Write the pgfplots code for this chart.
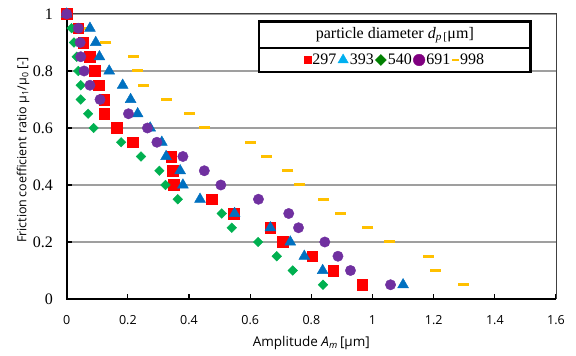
\documentclass[border=0pt]{standalone}
\usepackage{fontspec}
\setmainfont{Liberation Serif}
\setsansfont{Open Sans}
\usepackage{pgfplots}
\pgfplotsset{compat=1.18}
\definecolor{cRed}{HTML}{FF0000}
\definecolor{cBlue}{HTML}{0070C0}
\definecolor{cCyan}{HTML}{00B0F0}
\definecolor{cGreen}{HTML}{00B050}
\definecolor{cDGreen}{HTML}{008000}
\definecolor{cPurple}{HTML}{7030A0}
\definecolor{cLPurple}{HTML}{800080}
\definecolor{cGold}{HTML}{FFC000}
\begin{document}
\begin{tikzpicture}
\begin{axis}[
  at={(0pt,0pt)}, anchor=south west,
  scale only axis, width=489.3pt, height=285pt,
  xmin=0, xmax=1.6, ymin=0, ymax=1,
  xtick={0,0.2,...,1.6}, ytick={0,0.2,...,1},
  /pgf/number format/assume math mode=true,
  xticklabels={0,0.2,0.4,0.6,0.8,1,1.2,1.4,1.6},
  yticklabels={0,0.2,0.4,0.6,0.8,1},
  xticklabel style={font=\sffamily\fontsize{12.5}{12.5}\selectfont, anchor=center, inner sep=0pt, yshift=-21pt},
  yticklabel style={font=\fontsize{16}{16}\selectfont, anchor=east, inner sep=0pt, xshift=-13.5pt},
  tick align=inside, tick pos=left,
  major tick length=5pt,
  tick style={black, line width=1.2pt},
  axis line style={draw=none},
  ymajorgrids, grid style={gray!75, line width=1.1pt},
  xlabel={\sffamily\fontsize{13.5}{13.5}\selectfont Amplitude \textit{A}\textsubscript{\textit{m}}\,[μm]},
  ylabel={\sffamily\fontsize{12.5}{12.5}\selectfont Friction\,coefficient ratio μ\textsubscript{1}/μ\textsubscript{0} [-]},
  xlabel style={at={(axis description cs:0.5,-0.154)}, anchor=center},
  ylabel style={at={(axis description cs:-0.0893,0.523)}, anchor=center},
  clip=false,
  legend columns=5,
  legend style={at={(axis cs:1.073,0.8386)}, anchor=center, draw=none, fill=none,
    font=\fontsize{16}{16}\selectfont, inner sep=0pt,
    nodes={inner sep=1.5pt},
    /tikz/every even column/.append style={column sep=0pt},
    /tikz/every odd column/.append style={column sep=0pt}},
  legend cell align=left,
  legend image code/.code={\draw[#1] (0cm,0cm) -- plot coordinates {(0cm,0cm)};},
]
\draw[black!75, line width=1pt] (rel axis cs:0,1) -- (rel axis cs:1,1) -- (rel axis cs:1,0);
\draw[black, line width=1.8pt] (rel axis cs:0,1) -- (rel axis cs:0,0) -- (rel axis cs:1,0);
% 998
\addplot[only marks, mark=-, mark size=5.5pt, color=cGold, mark options={line width=3pt}, forget plot] coordinates {
(0,1) (0.058,0.95) (0.128,0.9) (0.218,0.85) (0.231,0.8) (0.251,0.75) (0.326,0.7) (0.402,0.65)
(0.451,0.6) (0.601,0.55) (0.654,0.5) (0.723,0.45) (0.762,0.4) (0.841,0.35) (0.894,0.3)
(0.985,0.25) (1.055,0.2) (1.183,0.15) (1.205,0.1) (1.297,0.05)};
% 297
\addplot[only marks, mark=square*, mark size=5.3pt, color=cRed, forget plot] coordinates {
(0,1) (0.038,0.95) (0.054,0.9) (0.076,0.85) (0.091,0.8) (0.104,0.75) (0.123,0.7) (0.123,0.65)
(0.163,0.6) (0.215,0.55) (0.342,0.5) (0.347,0.45) (0.349,0.4) (0.475,0.35) (0.546,0.3)
(0.666,0.25) (0.706,0.2) (0.803,0.15) (0.871,0.1) (0.966,0.05)};
% 393
\addplot[only marks, mark=triangle*, mark size=6.3pt, color=cBlue, forget plot] coordinates {
(0,1) (0.076,0.95) (0.095,0.9) (0.107,0.85) (0.139,0.8) (0.183,0.75) (0.209,0.7) (0.232,0.65)
(0.273,0.6) (0.311,0.55) (0.325,0.5) (0.371,0.45) (0.38,0.4) (0.436,0.35) (0.549,0.3)
(0.666,0.25) (0.731,0.2) (0.777,0.15) (0.837,0.1) (1.1,0.05)};
% 540
\addplot[only marks, mark=square*, mark options={rotate=45}, mark size=3.4pt, color=cGreen, forget plot] coordinates {
(0,1) (0.016,0.95) (0.024,0.9) (0.033,0.85) (0.038,0.8) (0.046,0.75) (0.046,0.7) (0.07,0.65)
(0.088,0.6) (0.178,0.55) (0.243,0.5) (0.303,0.45) (0.323,0.4) (0.363,0.35) (0.507,0.3)
(0.54,0.25) (0.626,0.2) (0.687,0.15) (0.739,0.1) (0.838,0.05)};
% 691
\addplot[only marks, mark=*, mark size=5.2pt, color=cPurple, forget plot] coordinates {
(0,1) (0.038,0.95) (0.044,0.9) (0.046,0.85) (0.057,0.8) (0.076,0.75) (0.109,0.7) (0.202,0.65)
(0.264,0.6) (0.295,0.55) (0.38,0.5) (0.45,0.45) (0.504,0.4) (0.627,0.35) (0.726,0.3)
(0.758,0.25) (0.844,0.2) (0.887,0.15) (0.928,0.1) (1.059,0.05)};
% legend frame and title
\draw[black, line width=2.6pt, fill=white] (axis cs:0.629,0.797) rectangle (axis cs:1.516,0.88);
\draw[black, line width=2.6pt, fill=white] (axis cs:0.629,0.88) rectangle (axis cs:1.516,0.973);
\node[font=\fontsize{16}{16}\selectfont] at (axis cs:1.073,0.926) {particle diameter \textit{d}\textsubscript{\textit{p}\,[}μm]};
\addlegendimage{only marks, mark=square*, mark size=3.4pt, color=cRed}
\addlegendentry{297}
\addlegendimage{only marks, mark=triangle*, mark size=6pt, color=cCyan}
\addlegendentry{393}
\addlegendimage{only marks, mark=square*, mark options={rotate=45}, mark size=3.9pt, color=cDGreen}
\addlegendentry{540}
\addlegendimage{only marks, mark=*, mark size=5.8pt, color=cLPurple}
\addlegendentry{691}
\addlegendimage{only marks, mark=-, mark size=3.3pt, color=cGold, mark options={line width=1.2pt}}
\addlegendentry{998}
\end{axis}
\pgfresetboundingbox
\path (-66.7pt,-57pt) rectangle (509.3pt,299pt);
\end{tikzpicture}
\end{document}
